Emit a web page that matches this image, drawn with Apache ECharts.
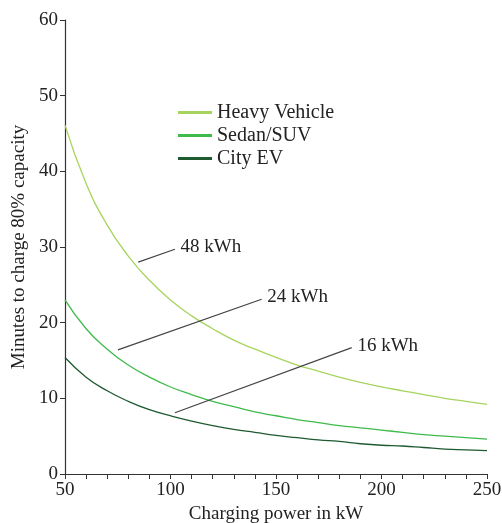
<!DOCTYPE html>
<html><head><meta charset="utf-8">
<script src="https://cdn.jsdelivr.net/npm/echarts@6/dist/echarts.min.js"></script>
<style>html,body{margin:0;padding:0;background:#fff}#c{width:502px;height:523px}</style>
</head><body><div id="c"></div>
<script>
const power = [50,60,70,80,90,100,110,120,130,140,150,160,170,180,190,200,210,220,230,240,250];
const heavyVehicle = [46.1,38.4,32.9,28.8,25.6,23.0,20.9,19.2,17.7,16.5,15.4,14.4,13.6,12.8,12.1,11.5,11.0,10.5,10.0,9.6,9.2];
const sedanSUV = [23.0,19.2,16.5,14.4,12.8,11.5,10.5,9.6,8.9,8.2,7.7,7.2,6.8,6.4,6.1,5.8,5.5,5.2,5.0,4.8,4.6];
const cityEV = [15.4,12.8,11.0,9.6,8.5,7.7,7.0,6.4,5.9,5.5,5.1,4.8,4.5,4.3,4.0,3.8,3.7,3.5,3.3,3.2,3.1];
const seriesNames = ['Heavy Vehicle','Sedan/SUV','City EV'];
const seriesColors = ['#a6d45e','#3fba4b','#1f5a30'];
// annotation leader lines: [label, startX, startY, endX, endY]
const annotations = [
  ['48 kWh', 84.7, 28.0, 102.1, 29.7],
  ['24 kWh', 75.1, 16.4, 143.2, 23.1],
  ['16 kWh', 102.1, 8.1, 185.9, 16.7]
];
const FONT = '"Liberation Serif","Times New Roman",serif';
const FS = 19;
const chart = echarts.init(document.getElementById('c'));
const pair = arr => power.map((p,i)=>[p,arr[i]]);
const datasets = [heavyVehicle, sedanSUV, cityEV];
const series = datasets.map((d,i)=>({
  name: seriesNames[i], type:'line', data: pair(d), smooth: true, showSymbol:false,
  lineStyle:{color:seriesColors[i], width:1.3}, itemStyle:{color:seriesColors[i]}, z: 3
}));
series.push({
  type:'line', data:[], silent:true,
  markLine:{
    silent:true, symbol:['none','none'],
    lineStyle:{color:'#444', width:1.2, type:'solid'},
    label:{show:true, position:'end', formatter: p=>p.name, color:'#222', fontFamily:FONT, fontSize:FS, distance:6},
    emphasis:{disabled:true},
    data: annotations.map(a=>[{name:a[0], coord:[a[1],a[2]]},{coord:[a[3],a[4]]}])
  }
});
chart.setOption({
  animation:false,
  textStyle:{fontFamily:FONT},
  grid:{left:65, right:15, top:20, bottom:49, containLabel:false, outerBoundsMode:'none'},
  legend:{
    data: seriesNames, orient:'vertical', left:173, top:97,
    itemWidth:34, itemHeight:3, itemGap:2, icon:'rect',
    textStyle:{fontFamily:FONT, fontSize:20, color:'#222', lineHeight:21, padding:[0,0,0,0]}
  },
  xAxis:{
    type:'value', min:50, max:250, interval:10,
    name:'Charging power in kW', nameLocation:'middle', nameGap:29,
    nameTextStyle:{fontFamily:FONT, fontSize:FS, color:'#222'},
    axisLine:{show:true, lineStyle:{color:'#333', width:1.2}},
    axisTick:{show:true, length:5, lineStyle:{color:'#333'}},
    axisLabel:{fontFamily:FONT, fontSize:FS, color:'#222', margin:7,
      formatter: v => (v % 50 === 0 ? String(v) : ''), showMinLabel:true, showMaxLabel:true},
    splitLine:{show:false}
  },
  yAxis:{
    type:'value', min:0, max:60, interval:10,
    name:'Minutes to charge 80% capacity', nameLocation:'middle', nameGap:34,
    nameTextStyle:{fontFamily:FONT, fontSize:FS, color:'#222'},
    axisLine:{show:true, lineStyle:{color:'#333', width:1.2}},
    axisTick:{show:true, length:5, lineStyle:{color:'#333'}},
    axisLabel:{fontFamily:FONT, fontSize:FS, color:'#222', margin:7},
    splitLine:{show:false}
  },
  series
});
</script></body></html>
